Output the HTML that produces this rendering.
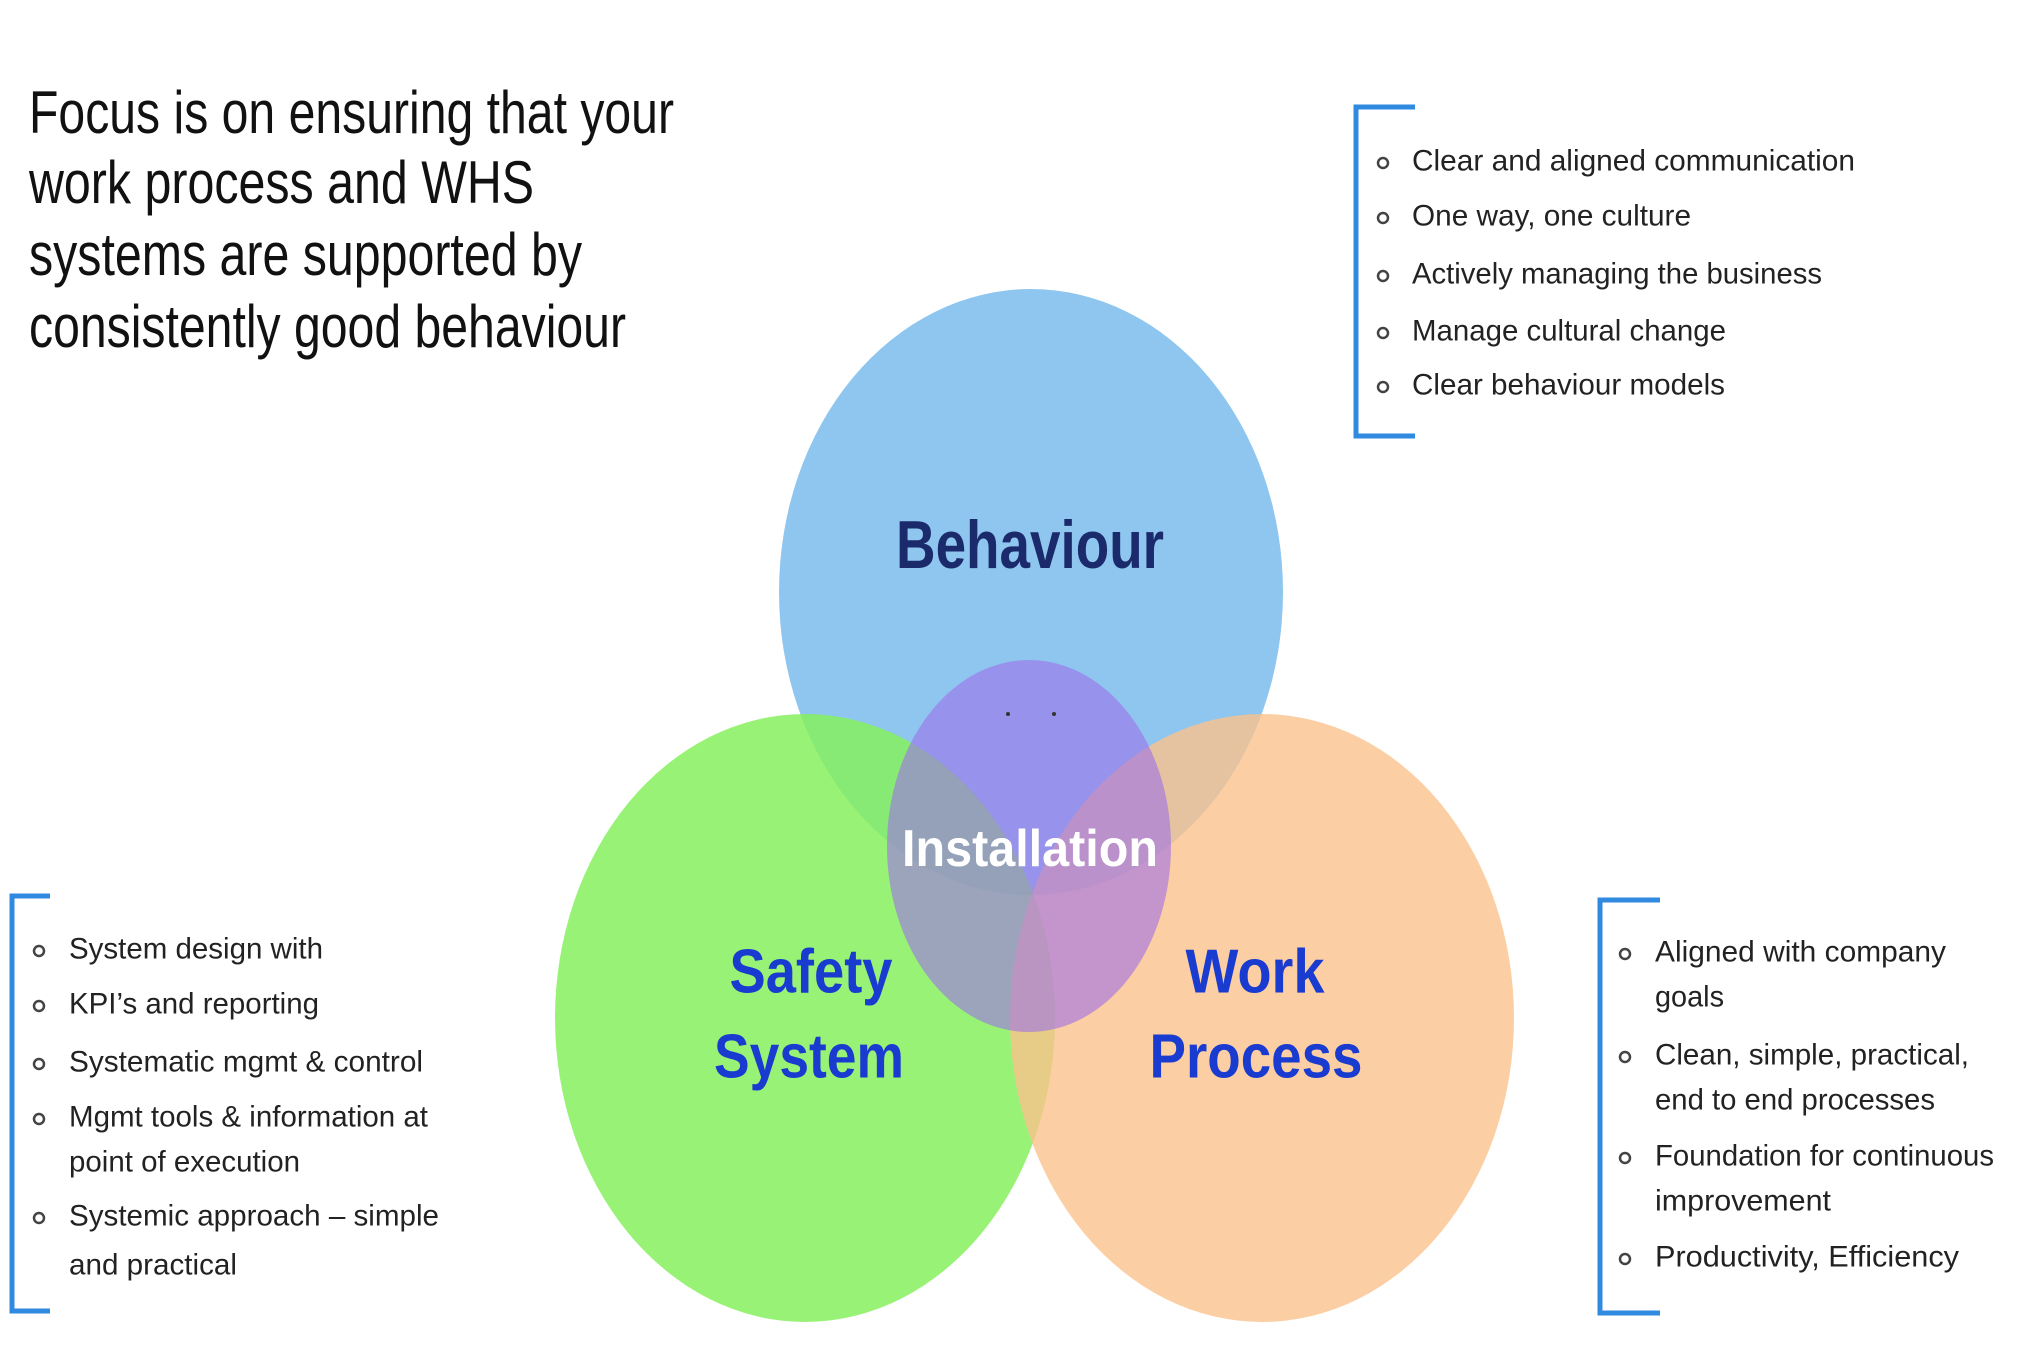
<!DOCTYPE html>
<html><head><meta charset="utf-8"><style>
html,body{margin:0;padding:0;background:#fff;}
svg{display:block;}
text{font-family:"Liberation Sans",Arial,sans-serif;}
</style></head><body>
<svg width="2038" height="1351" viewBox="0 0 2038 1351" xmlns="http://www.w3.org/2000/svg">
<g font-size="60" fill="#111">
<text x="29" y="133" textLength="645" lengthAdjust="spacingAndGlyphs">Focus is on ensuring that your</text>
<text x="29" y="203" textLength="505" lengthAdjust="spacingAndGlyphs">work process and WHS</text>
<text x="29" y="275" textLength="553" lengthAdjust="spacingAndGlyphs">systems are supported by</text>
<text x="29" y="347" textLength="597" lengthAdjust="spacingAndGlyphs">consistently good behaviour</text>
</g>
<ellipse cx="1031" cy="592" rx="252" ry="303" fill="#8ec6ef"/>
<ellipse cx="805" cy="1018" rx="250" ry="304" fill="#86f05e" opacity="0.85"/>
<ellipse cx="1262" cy="1018" rx="252" ry="304" fill="#fbc28c" opacity="0.8"/>
<ellipse cx="1029" cy="846" rx="142" ry="186" fill="#9d6fe8" opacity="0.6"/>
<circle cx="1008" cy="714" r="2" fill="#333"/><circle cx="1054" cy="714" r="2" fill="#333"/>
<g font-weight="bold" text-anchor="middle" dominant-baseline="central">
<text x="1030" y="545" font-size="68" fill="#1b2a6b" textLength="268" lengthAdjust="spacingAndGlyphs">Behaviour</text>
<text x="1030" y="849" font-size="52" fill="#fff" textLength="256" lengthAdjust="spacingAndGlyphs">Installation</text>
<g font-size="62" fill="#1a3bd0">
<text x="811" y="972" textLength="163" lengthAdjust="spacingAndGlyphs">Safety</text>
<text x="809" y="1057" textLength="190" lengthAdjust="spacingAndGlyphs">System</text>
<text x="1255" y="972" textLength="139" lengthAdjust="spacingAndGlyphs">Work</text>
<text x="1256" y="1057" textLength="213" lengthAdjust="spacingAndGlyphs">Process</text>
</g></g>
<g fill="none" stroke="#2f8ae0" stroke-width="5">
<path d="M1415 107 H1356 V436 H1415"/>
<path d="M50 896 H12 V1311 H50"/>
<path d="M1660 900 H1600 V1313 H1660"/>
</g>
<g font-size="30" fill="#222" dominant-baseline="central">
<g fill="none" stroke="#444" stroke-width="2.5">
<circle cx="1383" cy="163" r="5"/><circle cx="1383" cy="218" r="5"/><circle cx="1383" cy="276" r="5"/><circle cx="1383" cy="333" r="5"/><circle cx="1383" cy="387" r="5"/>
<circle cx="39" cy="951" r="5"/><circle cx="39" cy="1006" r="5"/><circle cx="39" cy="1064" r="5"/><circle cx="39" cy="1119" r="5"/><circle cx="39" cy="1218" r="5"/>
<circle cx="1625" cy="954" r="5"/><circle cx="1625" cy="1057" r="5"/><circle cx="1625" cy="1158" r="5"/><circle cx="1625" cy="1259" r="5"/>
</g>
<text x="1412" y="161" textLength="443" lengthAdjust="spacingAndGlyphs">Clear and aligned communication</text>
<text x="1412" y="216" textLength="279" lengthAdjust="spacingAndGlyphs">One way, one culture</text>
<text x="1412" y="274" textLength="410" lengthAdjust="spacingAndGlyphs">Actively managing the business</text>
<text x="1412" y="331" textLength="314" lengthAdjust="spacingAndGlyphs">Manage cultural change</text>
<text x="1412" y="385" textLength="313" lengthAdjust="spacingAndGlyphs">Clear behaviour models</text>

<text x="69" y="949" textLength="254" lengthAdjust="spacingAndGlyphs">System design with</text>
<text x="69" y="1004" textLength="250" lengthAdjust="spacingAndGlyphs">KPI’s and reporting</text>
<text x="69" y="1062" textLength="354" lengthAdjust="spacingAndGlyphs">Systematic mgmt &amp; control</text>
<text x="69" y="1117" textLength="359" lengthAdjust="spacingAndGlyphs">Mgmt tools &amp; information at</text>
<text x="69" y="1162" textLength="231" lengthAdjust="spacingAndGlyphs">point of execution</text>
<text x="69" y="1216" textLength="370" lengthAdjust="spacingAndGlyphs">Systemic approach – simple</text>
<text x="69" y="1265" textLength="168" lengthAdjust="spacingAndGlyphs">and practical</text>

<text x="1655" y="952" textLength="291" lengthAdjust="spacingAndGlyphs">Aligned with company</text>
<text x="1655" y="997" textLength="69" lengthAdjust="spacingAndGlyphs">goals</text>
<text x="1655" y="1055" textLength="314" lengthAdjust="spacingAndGlyphs">Clean, simple, practical,</text>
<text x="1655" y="1100" textLength="280" lengthAdjust="spacingAndGlyphs">end to end processes</text>
<text x="1655" y="1156" textLength="339" lengthAdjust="spacingAndGlyphs">Foundation for continuous</text>
<text x="1655" y="1201" textLength="176" lengthAdjust="spacingAndGlyphs">improvement</text>
<text x="1655" y="1257" textLength="304" lengthAdjust="spacingAndGlyphs">Productivity, Efficiency</text>
</g>
</svg>
</body></html>
